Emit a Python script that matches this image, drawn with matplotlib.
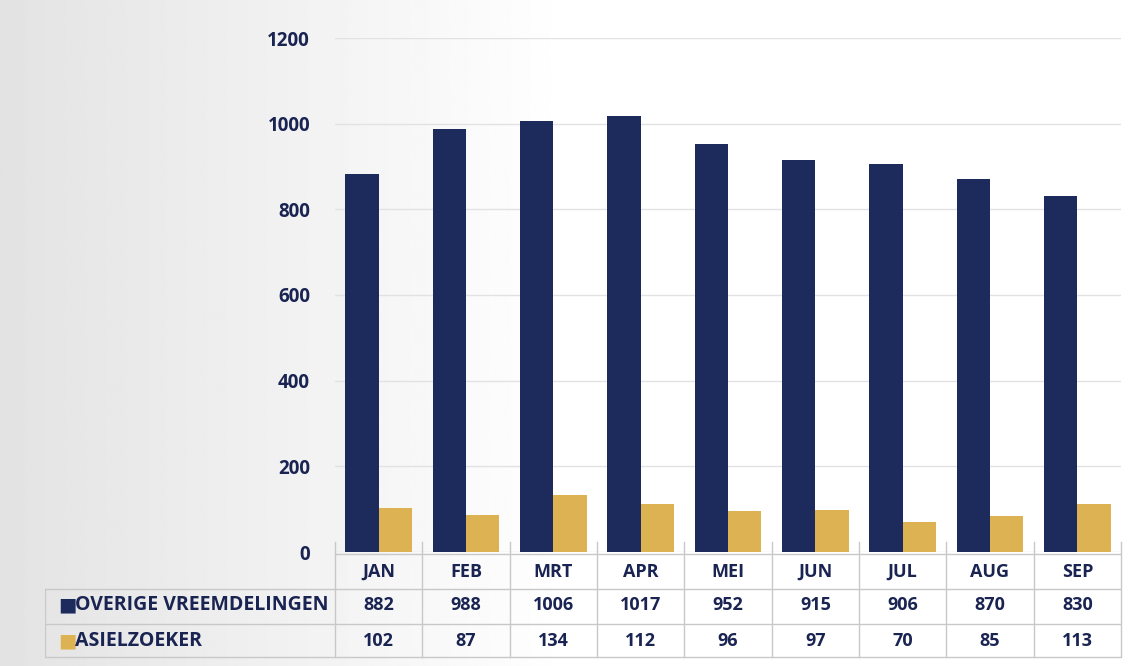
import matplotlib.pyplot as plt
import numpy as np

months = ['JAN', 'FEB', 'MRT', 'APR', 'MEI', 'JUN', 'JUL', 'AUG', 'SEP']
overige = [882, 988, 1006, 1017, 952, 915, 906, 870, 830]
asiel = [102, 87, 134, 112, 96, 97, 70, 85, 113]
series_names = ['OVERIGE VREEMDELINGEN', 'ASIELZOEKER']
yticks = [0, 200, 400, 600, 800, 1000, 1200]

navy = '#1c2a5c'
gold = '#ddb252'
text_col = '#1a2452'
line_col = '#c8c8c8'

plt.rcParams['font.family'] = ['Open Sans', 'DejaVu Sans']
plt.rcParams['font.weight'] = 'bold'

W, H = 1142, 666
fig = plt.figure(figsize=(W / 100, H / 100), dpi=100)

# soft grey background on the left like the scanned page
bg = fig.add_axes([0, 0, 1, 1])
grad = np.linspace(0.89, 1.0, 300)
grad = np.clip(np.concatenate([grad, np.ones(300)]), 0, 1)
bg.imshow(np.tile(grad, (10, 1)), cmap='gray', vmin=0, vmax=1, aspect='auto',
          extent=[0, 1, 0, 1])
bg.axis('off')

def px(x0, y0, x1, y1):
    return [x0 / W, 1 - y1 / H, (x1 - x0) / W, (y1 - y0) / H]

ax = fig.add_axes(px(335, 38, 1121, 552))
ax.patch.set_alpha(0)
x = np.arange(len(months))
bw = 0.38
ax.bar(x - bw / 2, overige, bw, color=navy, zorder=3)
ax.bar(x + bw / 2, asiel, bw, color=gold, zorder=3)
ax.set_xlim(-0.5, len(months) - 0.5)
ax.set_ylim(0, 1200)
ax.set_yticks(yticks)
ax.set_yticklabels([str(t) for t in yticks], fontsize=13.5, color=text_col, fontweight='bold')
ax.tick_params(axis='y', length=0, pad=18)
ax.set_xticks([])
ax.grid(axis='y', color='#e2e2e2', linewidth=1, zorder=0)
for s in ax.spines.values():
    s.set_visible(False)

# data table below the chart
tab = fig.add_axes(px(45, 552, 1121, 660))
tab.patch.set_alpha(0)
colw = 786 / len(months)
left = -0.5 - 290 / colw
tab.set_xlim(left, len(months) - 0.5)
tab.set_ylim(108, 0)
tab.axis('off')

row_y = [20, 53, 89]
fs = 13
for i, m in enumerate(months):
    tab.text(i, row_y[0], m, ha='center', va='center', fontsize=fs, color=text_col, fontweight='bold')
    tab.text(i, row_y[1], str(overige[i]), ha='center', va='center', fontsize=fs, color=text_col, fontweight='bold')
    tab.text(i, row_y[2], str(asiel[i]), ha='center', va='center', fontsize=fs, color=text_col, fontweight='bold')

for name, col, yy in zip(series_names, [navy, gold], row_y[1:]):
    tab.text(left + 0.15, yy, '\u25A0', ha='left', va='center', fontsize=14, color=col,
             family=['DejaVu Sans'])
    tab.text(left + 0.34, yy, name, ha='left', va='center', fontsize=14, color=text_col, fontweight='bold')

lw = 1
for xv in np.arange(-0.5, len(months) + 0.5):
    tab.plot([xv, xv], [-10, 105], color=line_col, lw=lw, clip_on=False)
tab.plot([-0.5, len(months) - 0.5], [2, 2], color=line_col, lw=lw)
for yv in [37, 72, 105]:
    tab.plot([left, len(months) - 0.5], [yv, yv], color=line_col, lw=lw)
tab.plot([left, left], [37, 105], color=line_col, lw=lw)

fig.savefig('out.png', dpi=100)
